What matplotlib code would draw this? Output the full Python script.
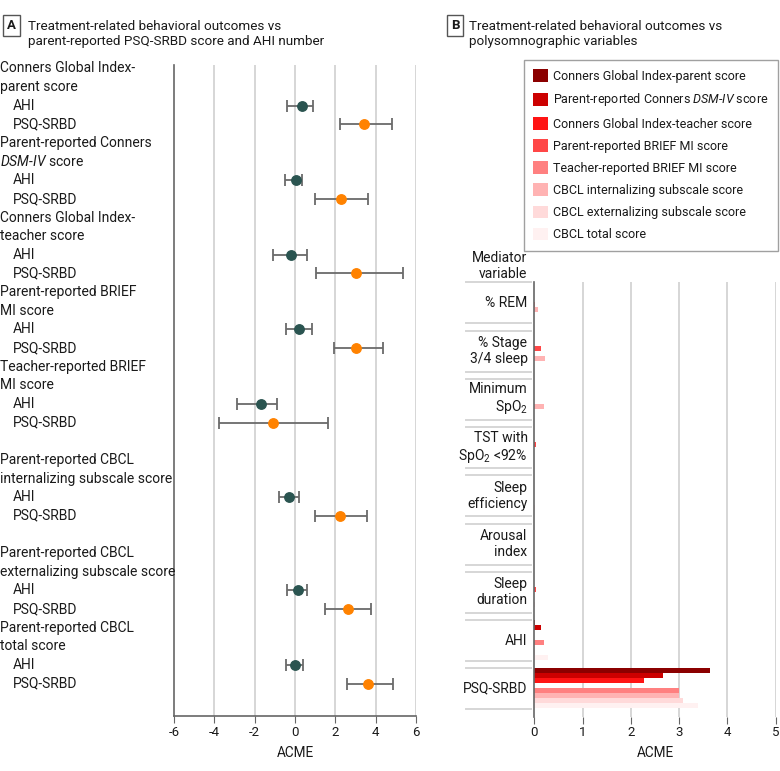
import matplotlib
matplotlib.use('Agg')
import matplotlib.pyplot as plt
from matplotlib.transforms import blended_transform_factory
from matplotlib.lines import Line2D
import numpy as np

FONT = 'Roboto'
plt.rcParams['font.family'] = [FONT, 'DejaVu Sans']
plt.rcParams['mathtext.fontset'] = 'custom'
plt.rcParams['mathtext.rm'] = FONT
plt.rcParams['mathtext.it'] = FONT + ':italic'

# ---------------- Panel A data ----------------
outcome_headers = [
    ["Conners Global Index-", "parent score"],
    ["Parent-reported Conners", r"$\mathit{DSM}$-$\mathit{IV}$ score"],
    ["Conners Global Index-", "teacher score"],
    ["Parent-reported BRIEF", "MI score"],
    ["Teacher-reported BRIEF", "MI score"],
    ["Parent-reported CBCL", "internalizing subscale score"],
    ["Parent-reported CBCL", "externalizing subscale score"],
    ["Parent-reported CBCL", "total score"],
]
blank_before = [False, False, False, False, False, True, True, False]
predictors = ["AHI", "PSQ-SRBD"]

ahi_est = [0.33, 0.03, -0.18, 0.20, -1.70, -0.31, 0.13, -0.02]
ahi_lo = [-0.38, -0.48, -1.07, -0.43, -2.89, -0.78, -0.38, -0.43]
ahi_hi = [0.91, 0.33, 0.58, 0.86, -0.88, 0.18, 0.61, 0.41]
psq_est = [3.40, 2.28, 3.00, 3.00, -1.11, 2.25, 2.64, 3.60]
psq_lo = [2.25, 1.01, 1.06, 1.95, -3.78, 1.01, 1.50, 2.59]
psq_hi = [4.83, 3.64, 5.37, 4.38, 1.65, 3.59, 3.77, 4.87]

xticks_a = [-6, -4, -2, 0, 2, 4, 6]
xticklabels_a = ["-6", "-4", "-2", "0", "2", "4", "6"]

# ---------------- Panel B data ----------------
mediators = ["% REM", "% Stage\n3/4 sleep", "Minimum\nSpO$_2$",
             "TST with\nSpO$_2$ <92%", "Sleep\nefficiency", "Arousal\nindex",
             "Sleep\nduration", "AHI", "PSQ-SRBD"]
series_names = ["Conners Global Index-parent score",
                r"Parent-reported Conners $\mathit{DSM}$-$\mathit{IV}$ score",
                "Conners Global Index-teacher score",
                "Parent-reported BRIEF MI score",
                "Teacher-reported BRIEF MI score",
                "CBCL internalizing subscale score",
                "CBCL externalizing subscale score",
                "CBCL total score"]
conners_parent = [0, 0, 0, 0, 0, 0, 0, 0.01, 3.64]
conners_dsm = [0, 0, 0, 0, 0, 0, 0, 0.14, 2.67]
conners_teacher = [0, 0, 0, 0, 0, 0, 0, 0, 2.27]
brief_parent = [0, 0.14, 0, 0.04, 0, 0, 0.04, 0, 0]
brief_teacher = [0.02, 0, 0, 0, 0, 0, 0, 0.20, 3.00]
cbcl_int = [0.07, 0.23, 0.20, 0, 0, 0, 0, 0, 3.00]
cbcl_ext = [0, 0, 0, 0, 0.02, 0, 0.02, 0.02, 3.07]
cbcl_total = [0, 0, 0, 0, 0, 0, 0, 0.29, 3.40]
series_values = [conners_parent, conners_dsm, conners_teacher, brief_parent,
                 brief_teacher, cbcl_int, cbcl_ext, cbcl_total]
series_colors = ["#8B0000", "#CC0000", "#FF1414", "#FF4747",
                 "#FF8080", "#FFB3B3", "#FFDADA", "#FFF1F1"]
xticks_b = [0, 1, 2, 3, 4, 5]

# ---------------- Figure ----------------
W, H = 780, 771
fig = plt.figure(figsize=(W / 100, H / 100), dpi=100)

def fx(px):
    return px / W

def fy(py):
    return 1 - py / H

GRID = "#d6d6d6"
SPINE = "#666666"
TXT = "#1a1a1a"
FS = 10.0

# Panel A axes
axA = fig.add_axes([fx(174), fy(716), fx(416) - fx(174), fy(64.5) - fy(716)])
axA.set_xlim(-6, 6)
axA.set_ylim(34.74, -0.21)
axA.set_xticks(xticks_a)
axA.set_xticklabels(xticklabels_a)
axA.set_yticks([])
for x in xticks_a[1:]:
    axA.axvline(x, color=GRID, lw=1.4, zorder=0)
for s in ["top", "right"]:
    axA.spines[s].set_visible(False)
for s in ["left", "bottom"]:
    axA.spines[s].set_color(SPINE)
    axA.spines[s].set_linewidth(1.2)
axA.tick_params(axis='x', length=5, color=SPINE, labelsize=9.5, pad=2, labelcolor=TXT)
axA.set_xlabel("ACME", fontsize=9.8, color=TXT, labelpad=5)

trA = blended_transform_factory(fig.transFigure, axA.transData)
L = 0
ahi_y, psq_y = [], []
for i, hdr in enumerate(outcome_headers):
    if blank_before[i]:
        L += 1
    axA.text(fx(0.5), L, hdr[0], transform=trA, fontsize=FS, va='center', ha='left', color=TXT)
    axA.text(fx(0.5), L + 1, hdr[1], transform=trA, fontsize=FS, va='center', ha='left', color=TXT)
    axA.text(fx(13), L + 2, predictors[0], transform=trA, fontsize=FS, va='center', ha='left', color=TXT)
    axA.text(fx(13), L + 3, predictors[1], transform=trA, fontsize=FS, va='center', ha='left', color=TXT)
    ahi_y.append(L + 2)
    psq_y.append(L + 3)
    L += 4

ahi_est_a = np.array(ahi_est)
psq_est_a = np.array(psq_est)
axA.errorbar(ahi_est_a, ahi_y,
             xerr=[ahi_est_a - np.array(ahi_lo), np.array(ahi_hi) - ahi_est_a],
             fmt='o', color='#2A5450', ecolor='#6a6a6a', elinewidth=1.3,
             capsize=4.2, capthick=1.3, markersize=6.8, zorder=3)
axA.errorbar(psq_est_a, psq_y,
             xerr=[psq_est_a - np.array(psq_lo), np.array(psq_hi) - psq_est_a],
             fmt='o', color='#FF8200', ecolor='#6a6a6a', elinewidth=1.3,
             capsize=4.2, capthick=1.3, markersize=6.8, zorder=3)

# Panel B axes
axB = fig.add_axes([fx(534.3), fy(716.5), fx(775.7) - fx(534.3), fy(282.3) - fy(716.5)])
axB.set_xlim(0, 5)
axB.set_ylim(9, 0)
axB.set_xticks(xticks_b)
axB.set_yticks([])
for x in xticks_b[1:]:
    axB.axvline(x, color=GRID, lw=1.4, zorder=0)
for s in ["top", "right", "bottom"]:
    axB.spines[s].set_visible(False)
axB.spines["left"].set_color(SPINE)
axB.spines["left"].set_linewidth(1.2)
axB.tick_params(axis='x', length=5, color=SPINE, labelsize=9.5, pad=2, labelcolor=TXT)
axB.set_xlabel("ACME", fontsize=9.8, color=TXT, labelpad=5)

bh = 5 / 48.25
box = 41 / 48.25
idx = np.arange(len(mediators))
handles = []
for j, (name, vals, col) in enumerate(zip(series_names, series_values, series_colors)):
    h = axB.barh(idx + (j + 0.5) * bh, vals, height=bh, color=col, label=name,
                 linewidth=0, zorder=2)
    handles.append(h)

trB = blended_transform_factory(fig.transFigure, axB.transData)
for i, m in enumerate(mediators):
    axB.text(fx(527.5), i + box / 2, m, transform=trB, fontsize=FS, ha='right',
             va='center', color=TXT, linespacing=1.15)
    for yy in (i, i + box):
        axB.add_line(Line2D([fx(466), fx(530.5)], [yy, yy], transform=trB,
                            color=GRID, lw=1.4, clip_on=False))

fig.text(fx(527.5), fy(266), "Mediator\nvariable", fontsize=FS, ha='right',
         va='center', color=TXT, linespacing=1.15)

leg = fig.legend(handles=handles, loc='upper left',
                 bbox_to_anchor=(fx(524), fy(60)), frameon=True, fancybox=False,
                 fontsize=9.0, handlelength=1.2, handleheight=1.2,
                 handletextpad=0.35, labelspacing=0.68, borderpad=0.75,
                 borderaxespad=0, edgecolor='#888888')
leg.get_frame().set_linewidth(1.0)
for t in leg.get_texts():
    t.set_color(TXT)

# Panel titles
for letter, lx, tx, lines in [("A", 11.5, 28, "Treatment-related behavioral outcomes vs\nparent-reported PSQ-SRBD score and AHI number"),
                              ("B", 455, 469, "Treatment-related behavioral outcomes vs\npolysomnographic variables")]:
    fig.text(fx(lx), fy(25.5), letter, fontsize=9.5, fontweight='bold', ha='center',
             va='center', color=TXT,
             bbox=dict(boxstyle='square,pad=0.32', fc='white', ec='#555555', lw=1.0))
    fig.text(fx(tx), fy(34), lines, fontsize=9.7, ha='left', va='center',
             color=TXT, linespacing=1.2)

fig.savefig("out.png", dpi=100)
